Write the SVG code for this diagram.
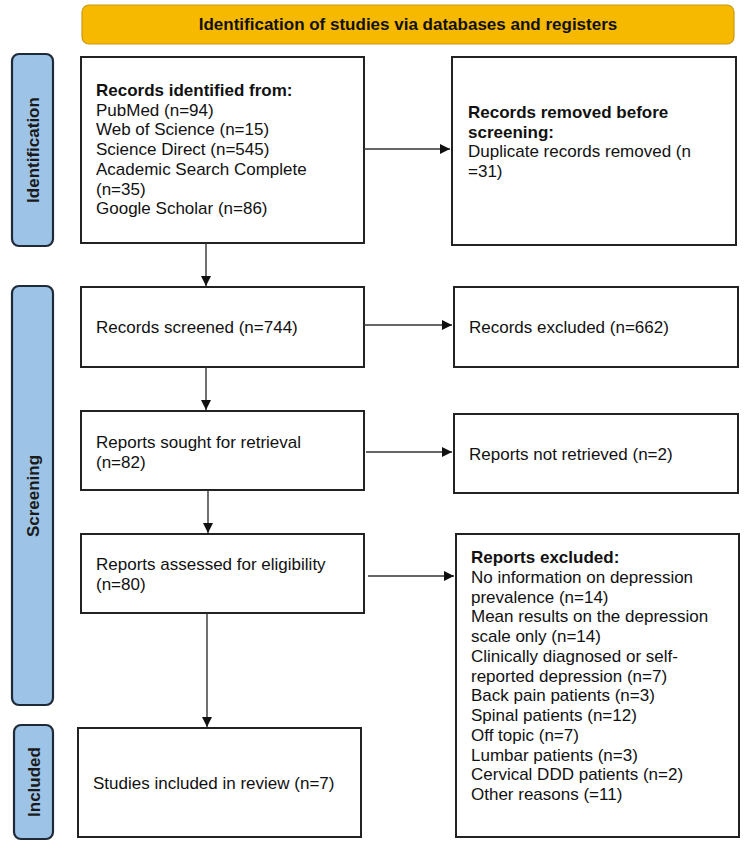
<svg xmlns="http://www.w3.org/2000/svg" width="748" height="851" viewBox="0 0 748 851">
<defs>
<marker id="ah" viewBox="0 0 10 10" refX="10" refY="5" markerWidth="10" markerHeight="10" markerUnits="userSpaceOnUse" orient="auto">
<path d="M0,0 L10,5 L0,10 z" fill="#111"/>
</marker>
<style>
.box{fill:#fff;stroke:#222;stroke-width:2}
.side{fill:#9DC3E6;stroke:#1F2A38;stroke-width:2.2}
.t{font-family:"Liberation Sans",Arial,sans-serif;font-size:17px;fill:#111}
.b{font-weight:bold}
.st{font-family:"Liberation Sans",Arial,sans-serif;font-size:17px;font-weight:bold;fill:#1a1a1a}
.c{stroke:#333;stroke-width:1.4;fill:none;marker-end:url(#ah)}
</style>
</defs>
<rect width="748" height="851" fill="#fff"/>
<g id="banner">
<rect x="82" y="5" width="652" height="39" rx="7" fill="#F6B900" stroke="#C99A10" stroke-width="1.2"/>
<text class="t b" x="408" y="30" text-anchor="middle">Identification of studies via databases and registers</text>
</g>
<g id="lbl-identification">
<rect class="side" x="12" y="54" width="41" height="192" rx="7"/>
<text class="st" transform="translate(38.5,150) rotate(-90)" text-anchor="middle">Identification</text>
</g>
<g id="lbl-screening">
<rect class="side" x="12" y="286" width="41" height="419" rx="7"/>
<text class="st" transform="translate(38.5,496) rotate(-90)" text-anchor="middle">Screening</text>
</g>
<g id="lbl-included">
<rect class="side" x="14" y="725" width="39" height="114" rx="7"/>
<text class="st" transform="translate(39.5,782) rotate(-90)" text-anchor="middle">Included</text>
</g>
<g id="n-identified">
<rect class="box" x="81" y="57" width="283" height="186"/>
<text class="t" x="96" y="96"><tspan class="b">Records identified from:</tspan><tspan x="96" dy="19.7">PubMed (n=94)</tspan><tspan x="96" dy="19.7">Web of Science (n=15)</tspan><tspan x="96" dy="19.7">Science Direct (n=545)</tspan><tspan x="96" dy="19.7">Academic Search Complete</tspan><tspan x="96" dy="19.7">(n=35)</tspan><tspan x="96" dy="19.7">Google Scholar (n=86)</tspan></text>
</g>
<g id="n-removed">
<rect class="box" x="452" y="57" width="284" height="188"/>
<text class="t" x="468" y="118"><tspan class="b">Records removed before</tspan><tspan class="b" x="468" dy="19.7">screening:</tspan><tspan x="468" dy="19.7">Duplicate records removed (n</tspan><tspan x="468" dy="19.7">=31)</tspan></text>
</g>
<g id="n-screened">
<rect class="box" x="81" y="287" width="283" height="80"/>
<text class="t" x="96" y="333">Records screened (n=744)</text>
</g>
<g id="n-excluded">
<rect class="box" x="454" y="287" width="284" height="80"/>
<text class="t" x="469" y="333">Records excluded (n=662)</text>
</g>
<g id="n-sought">
<rect class="box" x="81" y="411" width="283" height="79"/>
<text class="t" x="96" y="448"><tspan>Reports sought for retrieval</tspan><tspan x="96" dy="19.7">(n=82)</tspan></text>
</g>
<g id="n-notretrieved">
<rect class="box" x="454" y="414" width="284" height="79"/>
<text class="t" x="469" y="460">Reports not retrieved (n=2)</text>
</g>
<g id="n-assessed">
<rect class="box" x="81" y="534" width="283" height="79"/>
<text class="t" x="96" y="570"><tspan>Reports assessed for eligibility</tspan><tspan x="96" dy="19.7">(n=80)</tspan></text>
</g>
<g id="n-reportsexcluded">
<rect class="box" x="456" y="534" width="283" height="303"/>
<text class="t" x="471" y="563"><tspan class="b">Reports excluded:</tspan><tspan x="471" dy="19.75">No information on depression</tspan><tspan x="471" dy="19.75">prevalence (n=14)</tspan><tspan x="471" dy="19.75">Mean results on the depression</tspan><tspan x="471" dy="19.75">scale only (n=14)</tspan><tspan x="471" dy="19.75">Clinically diagnosed or self-</tspan><tspan x="471" dy="19.75">reported depression (n=7)</tspan><tspan x="471" dy="19.75">Back pain patients (n=3)</tspan><tspan x="471" dy="19.75">Spinal patients (n=12)</tspan><tspan x="471" dy="19.75">Off topic (n=7)</tspan><tspan x="471" dy="19.75">Lumbar patients (n=3)</tspan><tspan x="471" dy="19.75">Cervical DDD patients (n=2)</tspan><tspan x="471" dy="19.75">Other reasons (=11)</tspan></text>
</g>
<g id="n-included">
<rect class="box" x="78" y="728" width="283" height="109"/>
<text class="t" x="93" y="789">Studies included in review (n=7)</text>
</g>
<g id="connectors">
<path class="c" d="M364,149 H450"/>
<path class="c" d="M206,243 V286"/>
<path class="c" d="M364,325 H452"/>
<path class="c" d="M206,367 V410"/>
<path class="c" d="M366,452 H452"/>
<path class="c" d="M208,490 V533"/>
<path class="c" d="M368,576 H454"/>
<path class="c" d="M207,613 V727"/>
</g>
</svg>
